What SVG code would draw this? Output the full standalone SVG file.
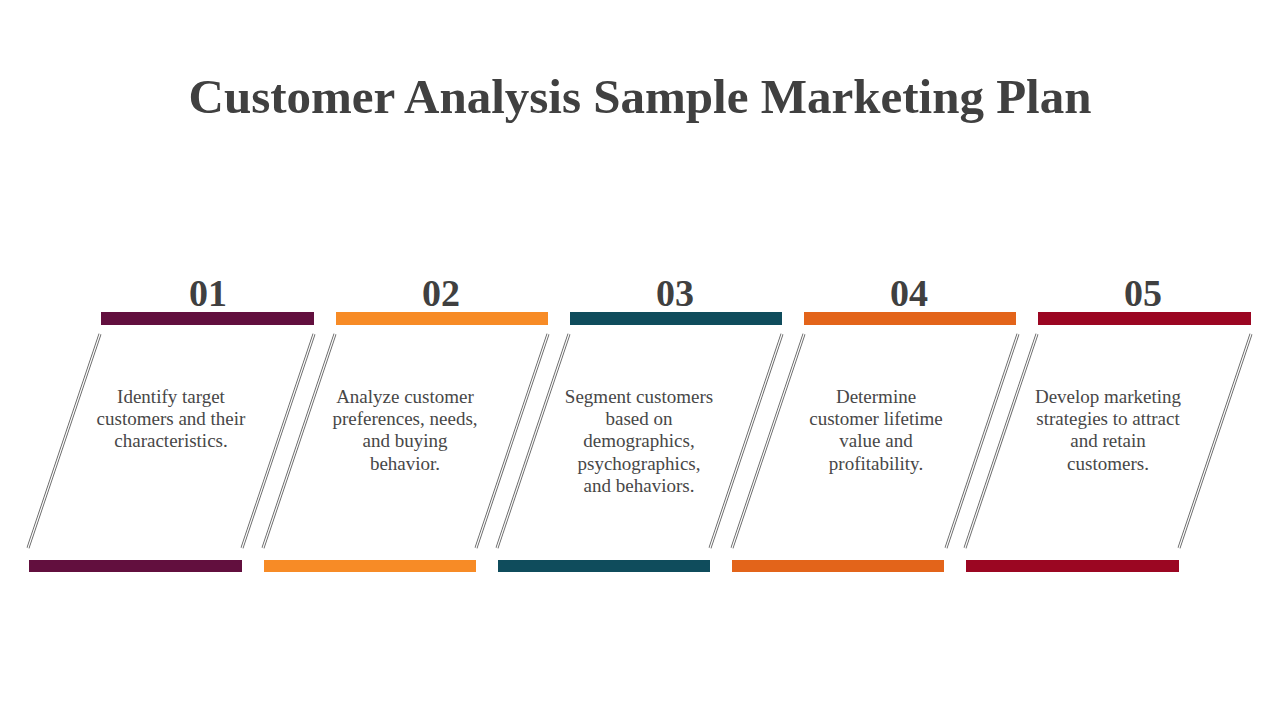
<svg xmlns="http://www.w3.org/2000/svg" width="1280" height="720" viewBox="0 0 1280 720">
<style>
.t{font-family:"Liberation Serif","DejaVu Serif",serif;fill:#404040;text-anchor:middle}
.title{font-size:49px;font-weight:bold}
.num{font-size:38px;font-weight:bold}
.body{font-size:19px;fill:#474747}
.o{stroke:#666;stroke-width:3;fill:none}
.i{stroke:#fff;stroke-width:1.2;fill:none}
</style>
<defs>
<g id="sl"><line class="o" x1="0" y1="0" x2="-72" y2="214"/><line class="i" x1="0" y1="0" x2="-72" y2="214"/></g>
</defs>
<rect width="1280" height="720" fill="#fff"/>
<text class="t title" x="640" y="113">Customer Analysis Sample Marketing Plan</text>
<g id="connectors">
<use href="#sl" x="100" y="334"/><use href="#sl" x="314" y="334"/>
<use href="#sl" x="335" y="334"/><use href="#sl" x="548" y="334"/>
<use href="#sl" x="569" y="334"/><use href="#sl" x="782" y="334"/>
<use href="#sl" x="804" y="334"/><use href="#sl" x="1018" y="334"/>
<use href="#sl" x="1037" y="334"/><use href="#sl" x="1251" y="334"/>
</g>
<g id="step1">
<rect x="101" y="312" width="213" height="13" fill="#620F3E"/><rect x="29" y="560" width="213" height="12" fill="#620F3E"/>
<text class="t num" x="208" y="306">01</text>
<text class="t body" x="171"><tspan x="171" y="403">Identify target</tspan><tspan x="171" y="425">customers and their</tspan><tspan x="171" y="447">characteristics.</tspan></text>
</g>
<g id="step2">
<rect x="336" y="312" width="212" height="13" fill="#F78B26"/><rect x="264" y="560" width="212" height="12" fill="#F78B26"/>
<text class="t num" x="441" y="306">02</text>
<text class="t body"><tspan x="405" y="403">Analyze customer</tspan><tspan x="405" y="425">preferences, needs,</tspan><tspan x="405" y="447">and buying</tspan><tspan x="405" y="470">behavior.</tspan></text>
</g>
<g id="step3">
<rect x="570" y="312" width="212" height="13" fill="#0F4C5C"/><rect x="498" y="560" width="212" height="12" fill="#0F4C5C"/>
<text class="t num" x="675" y="306">03</text>
<text class="t body"><tspan x="639" y="403">Segment customers</tspan><tspan x="639" y="425">based on</tspan><tspan x="639" y="447">demographics,</tspan><tspan x="639" y="470">psychographics,</tspan><tspan x="639" y="492">and behaviors.</tspan></text>
</g>
<g id="step4">
<rect x="804" y="312" width="212" height="13" fill="#E3641A"/><rect x="732" y="560" width="212" height="12" fill="#E3641A"/>
<text class="t num" x="909" y="306">04</text>
<text class="t body"><tspan x="876" y="403">Determine</tspan><tspan x="876" y="425">customer lifetime</tspan><tspan x="876" y="447">value and</tspan><tspan x="876" y="470">profitability.</tspan></text>
</g>
<g id="step5">
<rect x="1038" y="312" width="213" height="13" fill="#9B0622"/><rect x="966" y="560" width="213" height="12" fill="#9B0622"/>
<text class="t num" x="1143" y="306">05</text>
<text class="t body"><tspan x="1108" y="403">Develop marketing</tspan><tspan x="1108" y="425">strategies to attract</tspan><tspan x="1108" y="447">and retain</tspan><tspan x="1108" y="470">customers.</tspan></text>
</g>
</svg>
